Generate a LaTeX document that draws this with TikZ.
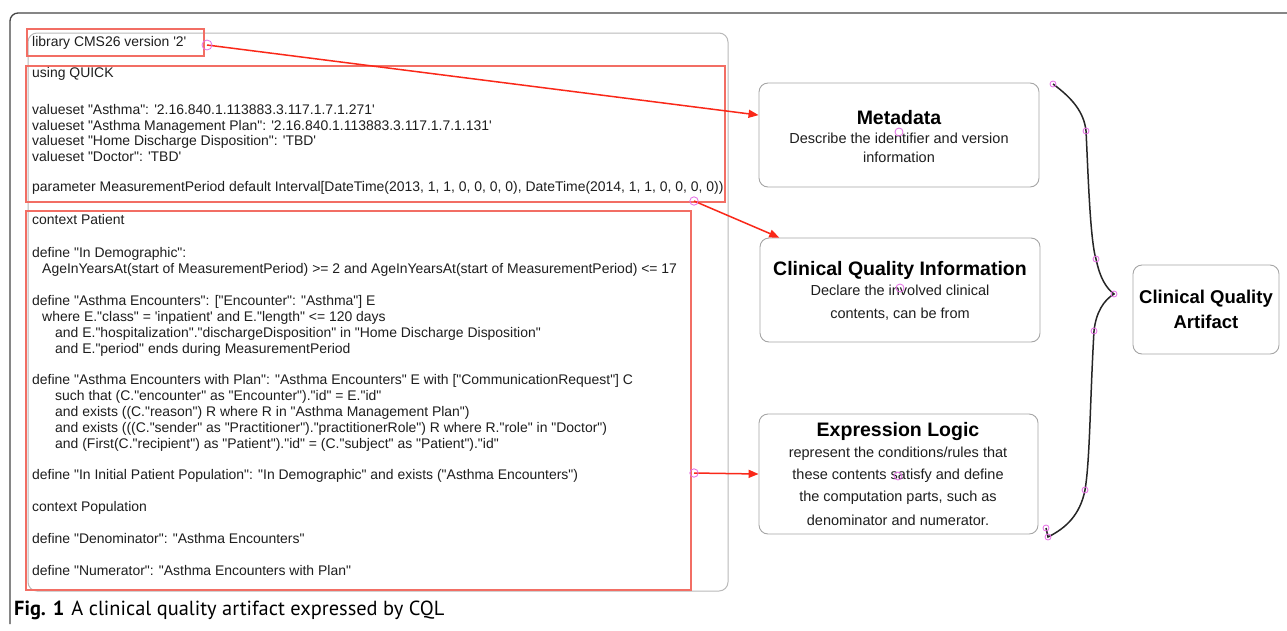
\documentclass[tikz,border=0pt]{standalone}
\usepackage{fontspec}
\setmainfont{Liberation Sans}
\newfontfamily\codefont{Liberation Sans}
\newfontfamily\capfont{PT Sans}
\usetikzlibrary{arrows.meta,calc}
\definecolor{codegray}{RGB}{185,185,185}
\definecolor{redbox}{RGB}{242,110,100}
\definecolor{redarrow}{RGB}{250,40,25}
\definecolor{handle}{RGB}{230,110,230}
\definecolor{boxgray}{RGB}{165,165,165}
\definecolor{txt}{RGB}{30,30,30}
\definecolor{frame}{RGB}{70,70,70}
\tikzset{
  code/.style={anchor=west,inner sep=0pt,text height=9.5pt,text depth=3pt,font=\codefont\fontsize{13.95}{16}\selectfont,text=txt},
  redrect/.style={draw=redbox,line width=1.2pt},
  infobox/.style={draw=boxgray,line width=0.9pt,rounded corners=9pt},
  ttl/.style={inner sep=0pt,font=\fontsize{19.5}{22}\selectfont\bfseries,text=black},
  desc/.style={inner sep=0pt,font=\fontsize{14.5}{17}\selectfont,text=txt},
  conn/.style={draw=redarrow,line width=1.5pt,-{Triangle[length=10pt,width=8pt]}},
  hnd/.style={draw=handle,line width=0.8pt,fill=none},
}
\begin{document}
\begin{tikzpicture}[x=1pt,y=-1pt]
\useasboundingbox (0,0) rectangle (1287,630);
\fill[white] (0,0) rectangle (1287,630);
% outer frame
\draw[frame,line width=1.3pt,rounded corners=8pt] (10,624) -- (10,13) -- (1290,13);
% code panel
\draw[codegray,line width=1pt,rounded corners=9pt] (28,33) rectangle (728,591);
% red rectangles
\draw[redrect] (27,29) rectangle (204,56);
\draw[redrect] (26,66) rectangle (725,202);
\draw[redrect] (26,211) rectangle (691,590);
% code lines
\node[code] (l1) at (32,43) {library CMS26 version '2'};
\node[code] (l2) at (32,74) {using QUICK};
\node[code] (l3) at (32,111) {valueset "Asthma": '2.16.840.1.113883.3.117.1.7.1.271'};
\node[code] (l4) at (32,127) {valueset "Asthma Management Plan": '2.16.840.1.113883.3.117.1.7.1.131'};
\node[code] (l5) at (32,142.5) {valueset "Home Discharge Disposition": 'TBD'};
\node[code] (l6) at (32,158) {valueset "Doctor": 'TBD'};
\node[code] (l7) at (32,188) {parameter MeasurementPeriod default Interval[DateTime(2013, 1, 1, 0, 0, 0, 0), DateTime(2014, 1, 1, 0, 0, 0, 0))};
\node[code] (l8) at (32,221) {context Patient};
\node[code] (l9) at (32,254) {define "In Demographic":};
\node[code] (l10) at (42,270) {AgeInYearsAt(start of MeasurementPeriod) >= 2 and AgeInYearsAt(start of MeasurementPeriod) <= 17};
\node[code] (l11) at (32,302) {define "Asthma Encounters": ["Encounter": "Asthma"] E};
\node[code] (l12) at (42,318) {where E."class" = 'inpatient' and E."length" <= 120 days};
\node[code] (l13) at (55,334) {and E."hospitalization"."dischargeDisposition" in "Home Discharge Disposition"};
\node[code] (l14) at (55,350) {and E."period" ends during MeasurementPeriod};
\node[code] (l15) at (32,381) {define "Asthma Encounters with Plan": "Asthma Encounters" E with ["CommunicationRequest"] C};
\node[code] (l16) at (55,397) {such that (C."encounter" as "Encounter")."id" = E."id"};
\node[code] (l17) at (55,413) {and exists ((C."reason") R where R in "Asthma Management Plan")};
\node[code] (l18) at (55,429) {and exists (((C."sender" as "Practitioner")."practitionerRole") R where R."role" in "Doctor")};
\node[code] (l19) at (55,445) {and (First(C."recipient") as "Patient")."id" = (C."subject" as "Patient")."id"};
\node[code] (l20) at (32,476) {define "In Initial Patient Population": "In Demographic" and exists ("Asthma Encounters")};
\node[code] (l21) at (32,508) {context Population};
\node[code] (l22) at (32,540) {define "Denominator": "Asthma Encounters"};
\node[code] (l23) at (32,572) {define "Numerator": "Asthma Encounters with Plan"};
% right boxes
\node[infobox,minimum width=280pt,minimum height=104pt] (meta) at (899,135) {};
\node[ttl] (metat) at (899,118) {Metadata};
\node[desc] (metad1) at (899,138) {Describe the identifier and version};
\node[desc] (metad2) at (899,157) {information};
\node[infobox,minimum width=280pt,minimum height=104pt] (cqi) at (900,290) {};
\node[ttl] (cqit) at (900,270) {Clinical Quality Information};
\node[desc] (cqid1) at (900,290) {Declare the involved clinical};
\node[desc] (cqid2) at (900,314) {contents, can be from};
\node[infobox,minimum width=279pt,minimum height=120pt] (expr) at (898.5,474) {};
\node[ttl] (exprt) at (898,431) {Expression Logic};
\node[desc] (exprd1) at (898,454) {represent the conditions/rules that};
\node[desc] (exprd2) at (898,476) {these contents satisfy and define};
\node[desc] (exprd3) at (898,498) {the computation parts, such as};
\node[desc] (exprd4) at (898,520) {denominator and numerator.};
\node[infobox,minimum width=146pt,minimum height=89pt] (cqa) at (1206,309.5) {};
\node[ttl,font=\fontsize{18.5}{22}\selectfont\bfseries] (cqat1) at (1206,299) {Clinical Quality};
\node[ttl,font=\fontsize{18.5}{22}\selectfont\bfseries] (cqat2) at (1206,322) {Artifact};
% connector endpoints
\coordinate (p1) at (207,45);
\coordinate (p2) at (694,201);
\coordinate (p3) at (694,473);
\coordinate (e1) at ($(meta.north west)!0.31!(meta.south west)$);
\coordinate (e2) at ($(cqi.north west)!0.07!(cqi.north east)$);
\draw[conn] (p1) -- (e1);
\draw[conn] (p2) -- (e2);
\draw[conn] (p3) -- (expr.west);
% brace
\coordinate (b0) at (1053,84);
\coordinate (b1) at (1086,131);
\coordinate (b2) at (1096,259);
\coordinate (b3) at (1114,294);
\coordinate (b4) at (1094,331);
\coordinate (b5) at (1085,490);
\coordinate (b6) at (1048,537);
\coordinate (b7) at (1046,528);
\draw[black!85,line width=1.5pt] (b0) .. controls (1072,98) and (1084,112) .. (b1)
  .. controls (1088,170) and (1090,240) .. (b2)
  .. controls (1100,278) and (1106,288) .. (b3)
  .. controls (1104,300) and (1096,312) .. (b4)
  .. controls (1090,400) and (1090,460) .. (b5)
  .. controls (1080,515) and (1066,528) .. (b6) -- (b7);
% handles
\draw[hnd] (p1) circle (5pt);
\foreach \c in {p2,p3} \draw[hnd] (\c) circle (4.2pt);
\foreach \c in {b0,b1,b2,b3,b4,b5,b6,b7} \draw[hnd] (\c) circle (3pt);
\draw[hnd] (899,132) circle (4pt);
\draw[hnd] (900,288) circle (4pt);
\draw[hnd] (898,476) circle (4pt);
% caption
\node[anchor=west,inner sep=0pt,font=\capfont\fontsize{20.4}{22}\selectfont,text=black] (cap) at (14,610) {\textbf{Fig. 1}\hspace{7pt}A clinical quality artifact expressed by CQL};
\end{tikzpicture}
\end{document}
